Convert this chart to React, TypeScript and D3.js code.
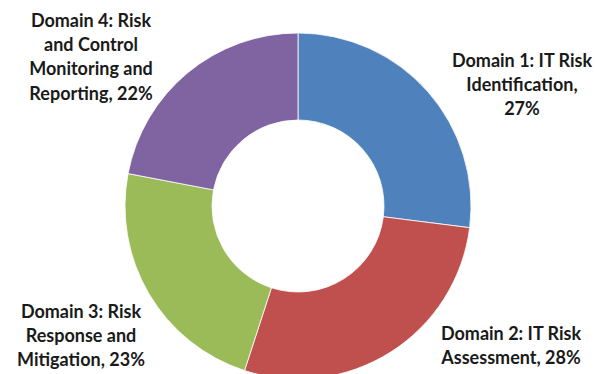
import React from "react";
import * as d3 from "d3";

const categories = ["Domain 1: IT Risk Identification", "Domain 2: IT Risk Assessment", "Domain 3: Risk Response and Mitigation", "Domain 4: Risk and Control Monitoring and Reporting"];
const values = [27, 28, 23, 22];
const colors = ["#4F81BD", "#C0504D", "#9BBB59", "#8064A2"];
const labelLines = [
  ["Domain 1: IT Risk", "Identification,", "27%"],
  ["Domain 2: IT Risk", "Assessment, 28%"],
  ["Domain 3: Risk", "Response and", "Mitigation, 23%"],
  ["Domain 4: Risk", "and Control", "Monitoring and", "Reporting, 22%"],
];
const labelPos = [
  [522, 67],
  [511, 340],
  [81, 318],
  [91, 27],
];

export default function App() {
  const W = 597, H = 374;
  const cx = 298, cy = 206, R = 173, r = 86;
  const pie = d3.pie<number>().sort(null).value((d) => d);
  const arcs = pie(values);
  const arc = d3.arc<d3.PieArcDatum<number>>().innerRadius(r).outerRadius(R);
  return (
    <svg width={W} height={H} style={{ position: "fixed", left: 0, top: 0, background: "#fff" }}>
      <g transform={`translate(${cx},${cy})`}>
        {arcs.map((a, i) => (
          <path key={categories[i]} d={arc(a) || ""} fill={colors[i]} stroke="#fff" strokeWidth={0.8} />
        ))}
      </g>
      {labelLines.map((lines, i) => (
        <text key={i} textAnchor="middle" fontFamily="Lato, 'Open Sans', sans-serif" fontWeight="bold" fontSize={18} fill="#1a1a1a">
          {lines.map((l, j) => (
            <tspan key={j} x={labelPos[i][0]} y={labelPos[i][1] + j * 24.2}>{l}</tspan>
          ))}
        </text>
      ))}
    </svg>
  );
}
